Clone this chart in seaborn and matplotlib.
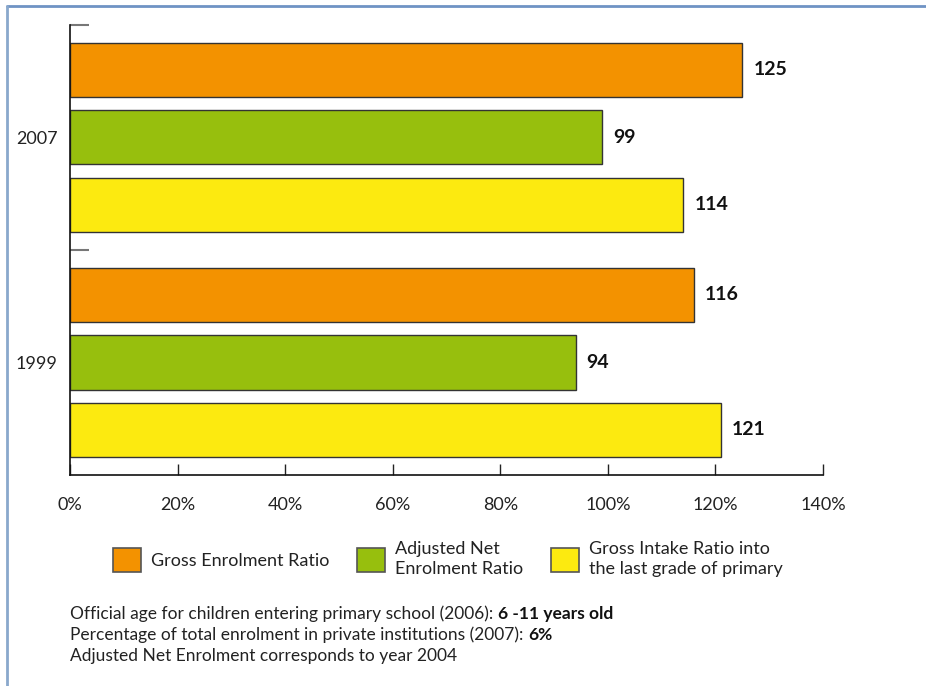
import matplotlib
matplotlib.use("Agg")
import matplotlib.pyplot as plt
from matplotlib.lines import Line2D
from matplotlib.patches import Patch
import seaborn as sns
import pandas as pd

years = ["2007", "1999"]
measures = ["Gross Enrolment Ratio", "Adjusted Net\nEnrolment Ratio",
            "Gross Intake Ratio into\nthe last grade of primary"]
values_2007 = [125, 99, 114]
values_1999 = [116, 94, 121]
colors = ["#F39200", "#97BF0D", "#FCEA10"]
x_ticks = [0, 20, 40, 60, 80, 100, 120, 140]

rows = []
for yr, vals in zip(years, [values_2007, values_1999]):
    for m, v in zip(measures, vals):
        rows.append({"year": yr, "measure": m, "value": v})
df = pd.DataFrame(rows)

sns.set_style("white")
FONT = ["Lato", "DejaVu Sans"]
plt.rcParams["font.family"] = FONT

W, H = 926, 686
fig = plt.figure(figsize=(W / 100, H / 100), dpi=100)
ax = fig.add_axes([70 / W, (H - 475) / H, 753 / W, 450 / H])

sns.barplot(data=df, y="year", x="value", hue="measure", order=years,
            hue_order=measures, palette=colors, saturation=1, orient="h",
            width=0.9, gap=0.2, edgecolor="#333333", linewidth=1.0,
            legend=False, ax=ax)

for cont in ax.containers:
    ax.bar_label(cont, fmt="%d", padding=8, fontsize=14, fontweight="bold",
                 color="#111111")

ax.set_xlim(0, 140)
ax.set_ylim(1.5, -0.5)
ax.set_xticks(x_ticks)
ax.set_xticklabels([f"{t}%" for t in x_ticks], fontsize=13, color="#222222")
ax.set_yticks([0, 1])
ax.set_yticklabels(years, fontsize=13, color="#222222")
ax.set_yticks([-0.5, 0.5], minor=True)
ax.tick_params(axis="y", which="major", left=True, length=0, pad=9)
ax.tick_params(axis="y", which="minor", left=True, direction="in", length=14,
               width=1.5, color="#777777")
ax.tick_params(axis="x", which="major", bottom=True, direction="in", length=8,
               width=1, color="#222222", pad=16)
ax.set_xlabel("")
ax.set_ylabel("")
for s in ["top", "right"]:
    ax.spines[s].set_visible(False)
for s in ["left", "bottom"]:
    ax.spines[s].set_color("#111111")
    ax.spines[s].set_linewidth(1.2)

handles = [Patch(facecolor=c, edgecolor="#555555", linewidth=1.2) for c in colors]
leg = fig.legend(handles, measures, ncol=3, frameon=False,
                 loc="center left", bbox_to_anchor=(109 / W, 1 - 559 / H),
                 fontsize=13, handlelength=1.55, handleheight=1.65,
                 handletextpad=0.55, columnspacing=1.55, labelspacing=0.2,
                 borderaxespad=0, borderpad=0.2)
for t in leg.get_texts():
    t.set_linespacing(1.35)
    t.set_color("#222222")

# Figure border (top and left)
fig.add_artist(Line2D([7 / W, 1], [1 - 6 / H, 1 - 6 / H], color="#6f93c4",
                      linewidth=2, transform=fig.transFigure))
fig.add_artist(Line2D([7 / W, 7 / W], [0, 1 - 6 / H], color="#8aa8cc",
                      linewidth=2, transform=fig.transFigure))

notes = [("Official age for children entering primary school (2006): ", "6 -11 years old"),
         ("Percentage of total enrolment in private institutions (2007): ", "6%"),
         ("Adjusted Net Enrolment corresponds to year 2004", "")]
fig.canvas.draw()
renderer = fig.canvas.get_renderer()
ys = [614, 635, 656]
for (reg, bold), yp in zip(notes, ys):
    t = fig.text(70 / W, 1 - yp / H, reg, fontsize=12.5, va="center",
                 ha="left", color="#222222")
    if bold:
        bb = t.get_window_extent(renderer=renderer)
        fig.text(bb.x1 / W, 1 - yp / H, bold, fontsize=12.5, va="center",
                 ha="left", fontweight="bold", color="#111111")

fig.savefig("out.png", dpi=100)
